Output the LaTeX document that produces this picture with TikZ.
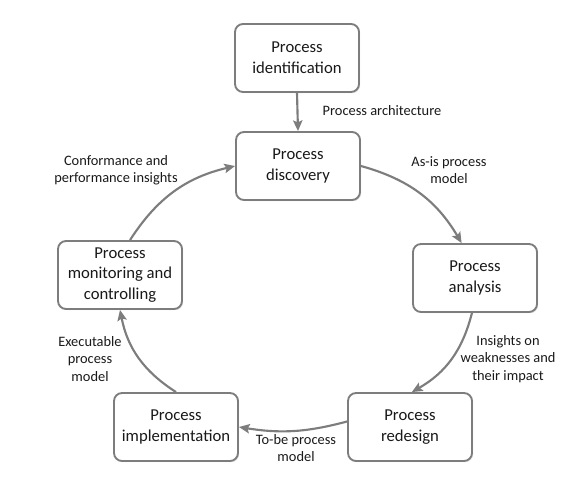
\documentclass[tikz,border=0pt]{standalone}
\usepackage{fontspec}
\setmainfont{Carlito}
\usetikzlibrary{arrows.meta, shadows}
\definecolor{edgegray}{RGB}{125,125,125}
\definecolor{txtdark}{RGB}{25,25,25}

\begin{document}
\begin{tikzpicture}[
    x=0.75pt, y=-0.75pt,
    phase/.style={draw=edgegray, line width=1.4pt, fill=white, rounded corners=6pt,
        minimum width=93pt, minimum height=51pt, align=center, text=txtdark,
        font=\fontsize{12.5}{15.5}\selectfont,
        drop shadow={shadow xshift=0.9pt, shadow yshift=-0.9pt, opacity=0.2}},
    flow/.style={-{Stealth[length=8pt, width=7pt, inset=1.5pt]}, draw=edgegray, line width=1.6pt},
    lbl/.style={font=\fontsize{10.8}{13}\selectfont, align=center, text=txtdark}
]
    \useasboundingbox (0,0) rectangle (574,495);
    % phases of the cycle
    \node[phase] (ident) at (297,58) {Process\\identification};
    \node[phase] (disc) at (298,166) {Process\\discovery};
    \node[phase] (anal) at (475,278) {Process\\analysis};
    \node[phase] (redes) at (410,427) {Process\\redesign};
    \node[phase] (impl) at (176,427) {Process\\implementation};
    \node[phase] (mon) at (120,275) {Process\\monitoring and\\controlling};
    % connectors
    \draw[flow] (ident.south) -- (disc.north);
    \draw[flow] (disc.east) to[bend left=22] (anal.111);
    \draw[flow] (anal.265) to[bend left=23] (redes.87);
    \draw[flow] (redes.175) to[bend left=12] (impl.east);
    \draw[flow] (impl.north) to[bend left=23] (mon.south);
    \draw[flow] (mon.74) to[bend left=22] (disc.west);
    % labels
    \node[lbl, anchor=west] (archlbl) at (318,111) {Process architecture};
    \node[lbl] (asislbl) at (449,170) {As-is process\\model};
    \node[lbl] (weaklbl) at (508,359) {Insights on\\weaknesses and\\their impact};
    \node[lbl] (tobelbl) at (296,448) {To-be process\\model};
    \node[lbl] (execlbl) at (90,359) {Executable\\process\\model};
    \node[lbl] (conflbl) at (116,170) {Conformance and\\performance insights};
\end{tikzpicture}
\end{document}
